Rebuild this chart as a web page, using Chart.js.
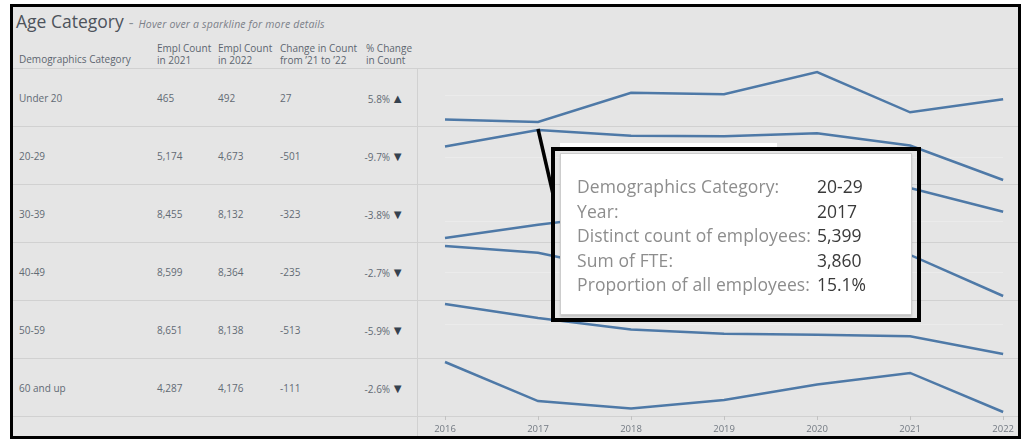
<!DOCTYPE html>
<html>
<head>
<meta charset="utf-8">
<title>Age Category</title>
<script src="https://cdn.jsdelivr.net/npm/chart.js@4.4.0/dist/chart.umd.min.js"></script>
<style>
  html, body { margin: 0; padding: 0; background: #fff; }
  body { position: relative; width: 1026px; height: 439px; overflow: hidden; font-family: "Open Sans", sans-serif; }
  .abs { position: absolute; white-space: nowrap; }
  #frame { left: 10px; top: 4px; width: 1005px; height: 429px; border: 3px solid #000; background: #e5e5e5; }
  #title { left: 16px; top: 9px; line-height: 24px; font-size: 17.5px; color: #4d535b; }
  #title .dash { color: #8b8f94; font-size: 15px; margin: 0 5px 0 5px; }
  #title .sub { font-style: italic; font-size: 10.5px; letter-spacing: 0.15px; color: #7b8088; }
  .hdr { font-size: 10px; line-height: 11.5px; color: #5d6570; }
  .cell { font-size: 10px; line-height: 12px; color: #626a74; }
  .tri { color: #35424f; font-size: 13px; line-height: 12px; margin-left: 1px; }
  .hline { height: 1px; background: #d1d1d1; }
  .vline { width: 1px; background: #d1d1d1; }
  #spark { left: 417px; top: 68px; width: 601px; height: 368px; }
  #tipStrip { left: 560px; top: 143px; width: 217px; height: 5px; background: #fff; }
  #tipBox { left: 560px; top: 153px; width: 350px; height: 160px; background: #fff; border: 1px solid #cdcdcd; box-shadow: 0 2px 2px rgba(0,0,0,0.15); }
  #tipFrame { left: 551px; top: 147px; width: 362px; height: 167px; border: 4px solid #000; }
  .tipLbl { font-size: 17.5px; line-height: 24.5px; color: #8d8d8d; letter-spacing: 0.1px; }
  .tipVal { font-size: 17.5px; line-height: 24.5px; color: #3a3a3a; }
</style>
</head>
<body>
<div id="frame" class="abs"></div>
<div id="title" class="abs">Age Category<span class="dash">-</span><span class="sub">Hover over a sparkline for more details</span></div>
<div id="table"></div>
<div id="spark" class="abs"><canvas id="sparkCanvas" width="601" height="368"></canvas></div>
<div id="tipStrip" class="abs"></div>
<div id="tipBox" class="abs"></div>
<div id="tipFrame" class="abs"></div>
<div id="tipText"></div>

<script>
// ── Data ─────────────────────────────────────────────────────────────
var categories = ['Under 20', '20-29', '30-39', '40-49', '50-59', '60 and up'];
var years = ['2016', '2017', '2018', '2019', '2020', '2021', '2022'];

var emplCount2021 = [465, 5174, 8455, 8599, 8651, 4287];
var emplCount2022 = [492, 4673, 8132, 8364, 8138, 4176];

// yearly distinct employee counts per age band (2016 .. 2022)
var under20   = [450, 445, 505, 502, 548, 465, 492];
var age20to29 = [5159, 5399, 5317, 5308, 5351, 5174, 4673];
var age30to39 = [7775, 7956, 8110, 8280, 8400, 8455, 8132];
var age40to49 = [8650, 8611, 8500, 8540, 8580, 8599, 8364];
var age50to59 = [9592, 9184, 8850, 8728, 8700, 8651, 8138];
var age60up   = [4318, 4207, 4186, 4210, 4254, 4287, 4176];

var headers = [
  ['Demographics Category'],
  ['Empl Count', 'in 2021'],
  ['Empl Count', 'in 2022'],
  ['Change in Count', 'from \u201921 to \u201922'],
  ['% Change', 'in Count']
];

// hovered mark shown in the tooltip
var hoverRow = 1;
var hoverYear = 1;
var hoverFte = 3860;

var seriesList = [under20, age20to29, age30to39, age40to49, age50to59, age60up];

// ── Table (left side) ────────────────────────────────────────────────
var ROW_TOP = 68, ROW_H = 58;
var colX = [19, 157, 218, 280];
var PCT_RIGHT = 404;

function fmt(n) { return n.toLocaleString('en-US'); }

function addDiv(cls, style, html) {
  var d = document.createElement('div');
  d.className = 'abs ' + cls;
  d.setAttribute('style', style);
  if (html != null) d.innerHTML = html;
  document.getElementById('table').appendChild(d);
  return d;
}

(function buildTable() {
  // header
  addDiv('hdr', 'left:' + colX[0] + 'px;top:54px;', headers[0][0]);
  for (var h = 1; h < 4; h++) {
    addDiv('hdr', 'left:' + colX[h] + 'px;top:43px;', headers[h].join('<br>'));
  }
  addDiv('hdr', 'left:366px;top:43px;', headers[4].join('<br>'));

  // row dividers and the sparkline column divider
  for (var r = 0; r <= categories.length; r++) {
    addDiv('hline', 'left:13px;width:1005px;top:' + (ROW_TOP + r * ROW_H) + 'px;');
  }
  addDiv('vline', 'left:417px;top:' + ROW_TOP + 'px;height:' + (436 - ROW_TOP) + 'px;');

  categories.forEach(function (cat, i) {
    var top = ROW_TOP + i * ROW_H + ROW_H / 2 - 6 + 0.5;
    var a = emplCount2021[i], b = emplCount2022[i];
    var chg = b - a;
    var pct = (chg / a * 100).toFixed(1) + '%';
    addDiv('cell', 'left:' + colX[0] + 'px;top:' + top + 'px;', cat);
    addDiv('cell', 'left:' + colX[1] + 'px;top:' + top + 'px;', fmt(a));
    addDiv('cell', 'left:' + colX[2] + 'px;top:' + top + 'px;', fmt(b));
    addDiv('cell', 'left:' + colX[3] + 'px;top:' + top + 'px;', String(chg));
    addDiv('cell', 'right:' + (1026 - PCT_RIGHT) + 'px;top:' + top + 'px;',
      pct + '<span class="tri">' + (chg >= 0 ? '\u25B2' : '\u25BC') + '</span>');
  });
})();

// ── Tooltip text ─────────────────────────────────────────────────────
(function buildTooltip() {
  var total = 0;
  seriesList.forEach(function (s) { total += s[hoverYear]; });
  var count = seriesList[hoverRow][hoverYear];
  var rows = [
    ['Demographics Category:', categories[hoverRow]],
    ['Year:', years[hoverYear]],
    ['Distinct count of employees:', fmt(count)],
    ['Sum of FTE:', fmt(hoverFte)],
    ['Proportion of all employees:', (count / total * 100).toFixed(1) + '%']
  ];
  var box = document.getElementById('tipText');
  rows.forEach(function (r, i) {
    var top = 174 + i * 24.5;
    var l = document.createElement('div');
    l.className = 'abs tipLbl';
    l.style.left = '577px'; l.style.top = top + 'px';
    l.textContent = r[0];
    var v = document.createElement('div');
    v.className = 'abs tipVal';
    v.style.left = '817px'; v.style.top = top + 'px';
    v.textContent = r[1];
    box.appendChild(l); box.appendChild(v);
  });
})();

// ── Callout line from the hovered mark to the tooltip frame ──────────
var calloutPlugin = {
  id: 'callout',
  afterDatasetsDraw: function (chart, _args, opts) {
    var meta = chart.getDatasetMeta(opts.datasetIndex);
    var pt = meta.data[opts.index];
    if (!pt) return;
    var ctx = chart.ctx;
    ctx.save();
    ctx.strokeStyle = '#000';
    ctx.lineWidth = 3.5;
    ctx.beginPath();
    ctx.moveTo(pt.x, pt.y - 1);
    ctx.lineTo(opts.toX, opts.toY);
    ctx.stroke();
    ctx.restore();
  }
};

// ── Sparklines: one chart, one stacked y axis per row ────────────────
var scales = {
  x: {
    type: 'category',
    grid: { display: true, drawOnChartArea: false, drawTicks: true, tickLength: 4, color: '#c2c2c2' },
    border: { display: false },
    ticks: { color: '#737a83', font: { size: 9.5, family: 'Open Sans' }, padding: 4, maxRotation: 0, autoSkip: false },
    afterFit: function (scale) { scale.height = 20; }
  }
};

var datasets = seriesList.map(function (vals, i) {
  var lo = Math.min.apply(null, vals);
  var hi = Math.max.apply(null, vals);
  var pad = (hi - lo) * 4 / 50;
  scales['y' + i] = {
    type: 'linear',
    position: 'right',
    stack: 'rows',
    stackWeight: 1,
    min: lo - pad,
    max: hi + pad,
    ticks: { display: false, maxTicksLimit: 4 },
    border: { display: false },
    grid: {
      drawTicks: false,
      color: function (c) {
        var n = c.scale.ticks.length;
        return (c.index === 0 || c.index === n - 1) ? 'rgba(0,0,0,0)' : '#ebebeb';
      }
    }
  };
  return {
    label: categories[i],
    data: vals,
    yAxisID: 'y' + i,
    borderColor: '#4e79a7',
    borderWidth: 2.5,
    pointRadius: 0,
    tension: 0,
    fill: false
  };
});

new Chart(document.getElementById('sparkCanvas'), {
  type: 'line',
  data: { labels: years, datasets: datasets },
  options: {
    responsive: false,
    animation: false,
    layout: { padding: { left: 28, right: 14, top: 0, bottom: 0 } },
    plugins: {
      legend: { display: false },
      tooltip: { enabled: false },
      callout: { datasetIndex: hoverRow, index: hoverYear, toX: 553 - 417, toY: 194 - 68 }
    },
    scales: scales
  },
  plugins: [calloutPlugin]
});
</script>
</body>
</html>
